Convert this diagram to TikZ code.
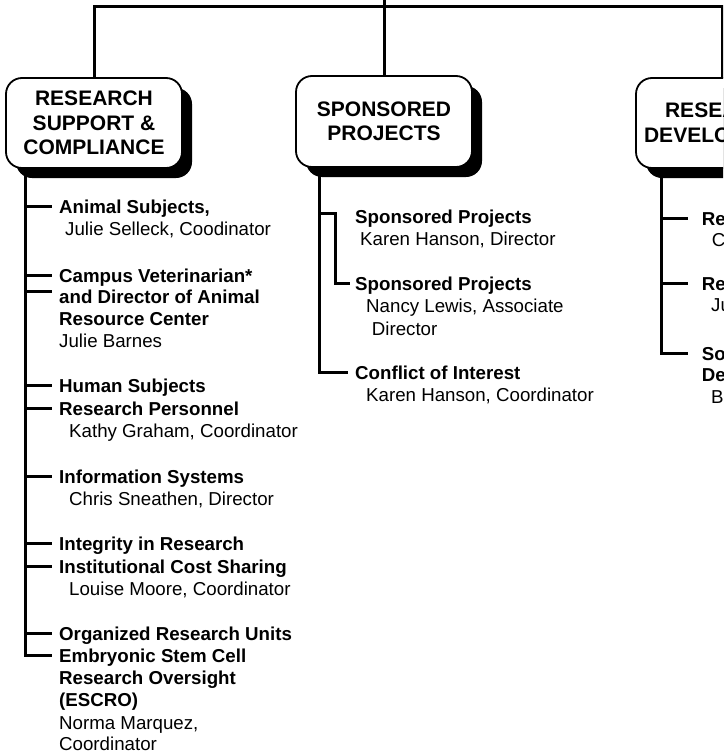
\documentclass[tikz,border=0pt]{standalone}
\usepackage{fontspec}
\setmainfont{Liberation Sans}
\usetikzlibrary{shadows}
\tikzset{
  conn/.style={line width=3pt},
  tickL/.style={conn, shorten >=7pt},
  tickM/.style={conn, shorten >=7pt},
  tickR/.style={conn, shorten >=14pt},
  titlebox/.style={draw, line width=1.8pt, fill=white, rounded corners=16pt,
    minimum width=176pt, minimum height=90pt, align=center, inner sep=0pt,
    font=\fontsize{21}{24.5}\selectfont\bfseries,
    general shadow={fill=black, shadow xshift=10pt, shadow yshift=-10pt}},
  hd/.style={anchor=base west, inner sep=0pt, text height=13.5pt, text depth=0pt,
    font=\fontsize{18.7}{22}\selectfont\bfseries},
  nm/.style={anchor=base west, inner sep=0pt, font=\fontsize{18.7}{22}\selectfont},
}
\begin{document}
\begin{tikzpicture}[x=1pt, y=-1pt]
\useasboundingbox (0,0) rectangle (723,755);
\clip (0,0) rectangle (723,755);

% title boxes
\node[titlebox] (b1) at (94,123) {RESEARCH\\SUPPORT \&\\COMPLIANCE};
\node[titlebox, minimum height=91pt] (b2) at (384,121.5) {SPONSORED\\PROJECTS};
\node[titlebox] (b3) at (724,123) {RESEARCH\\DEVELOPMENT};

% top connectors
\coordinate (top) at (384,6);
\coordinate (top0) at (384,0);
\coordinate (rt) at (722,78);
\draw[conn] (b1.north) |- (top) -| (rt);
\draw[conn] (b2.north) -- (top0);

% left column
\node[hd] (a1) at (59,213) {Animal Subjects,};
\node[nm] (a1n) at (65,235.7) {Julie Selleck, Coodinator};
\node[hd] (a2) at (59,282) {Campus Veterinarian*};
\node[hd] (a3) at (59,303.5) {and Director of Animal};
\node[hd] (a3b) at (59,325.3) {Resource Center};
\node[nm] (a3n) at (59,347.7) {Julie Barnes};
\node[hd] (a4) at (59,392.5) {Human Subjects};
\node[hd] (a5) at (59,415.7) {Research Personnel};
\node[nm] (a5n) at (69,437.3) {Kathy Graham, Coordinator};
\node[hd] (a6) at (59,483.3) {Information Systems};
\node[nm] (a6n) at (69,505) {Chris Sneathen, Director};
\node[hd] (a7) at (59,550.5) {Integrity in Research};
\node[hd] (a8) at (59,573.3) {Institutional Cost Sharing};
\node[nm] (a8n) at (69,595) {Louise Moore, Coordinator};
\node[hd] (a9) at (59,640.5) {Organized Research Units};
\node[hd] (a10) at (59,662.5) {Embryonic Stem Cell};
\node[hd] (a10b) at (59,684.5) {Research Oversight};
\node[hd] (a10c) at (59,706.7) {(ESCRO)};
\node[nm] (a10n) at (59,729) {Norma Marquez,};
\node[nm] (a10m) at (59,750.5) {Coordinator};

\coordinate (L) at (25,172);
\draw[tickL] (L) |- (a10.west);
\draw[tickL] (L |- a1.west) -- (a1.west);
\draw[tickL] (L |- a2.west) -- (a2.west);
\draw[tickL] ([yshift=5pt]L |- a3.west) -- ([yshift=5pt]a3.west);
\draw[tickL] (L |- a4.west) -- (a4.west);
\draw[tickL] (L |- a5.west) -- (a5.west);
\draw[tickL] (L |- a6.west) -- (a6.west);
\draw[tickL] (L |- a7.west) -- (a7.west);
\draw[tickL] (L |- a8.west) -- (a8.west);
\draw[tickL] (L |- a9.west) -- (a9.west);

% middle column
\node[hd] (m1) at (355,223.3) {Sponsored Projects};
\node[nm] (m1n) at (360,245) {Karen Hanson, Director};
\node[hd] (m2) at (355,290.7) {Sponsored Projects};
\node[nm] (m2n) at (366,312.7) {Nancy Lewis, Associate};
\node[nm] (m2m) at (371.7,335) {Director};
\node[hd] (m3) at (355,379.3) {Conflict of Interest};
\node[nm] (m3n) at (366,401.7) {Karen Hanson, Coordinator};

\coordinate (M) at (319,172);
\coordinate (mk) at (335,213.3);
\draw[tickM] (M) |- (m3.west);
\draw[conn, shorten >=5pt] (M |- mk) -- (mk) |- (m2.west);

% right column
\node[hd] (r1) at (701.7,225) {Re};
\node[nm] (r1n) at (711.7,246.7) {C};
\node[hd] (r2) at (701.7,290) {Re};
\node[nm] (r2n) at (711,311.7) {Ju};
\node[hd] (r3) at (701.7,360) {So};
\node[hd] (r3b) at (701.7,381.7) {De};
\node[nm] (r3n) at (711,403.3) {B};

\coordinate (R) at (661,172);
\draw[tickR] (R) |- (r3.west);
\draw[tickR] (R |- r1.west) -- (r1.west);
\draw[tickR] (R |- r2.west) -- (r2.west);
\end{tikzpicture}
\end{document}
